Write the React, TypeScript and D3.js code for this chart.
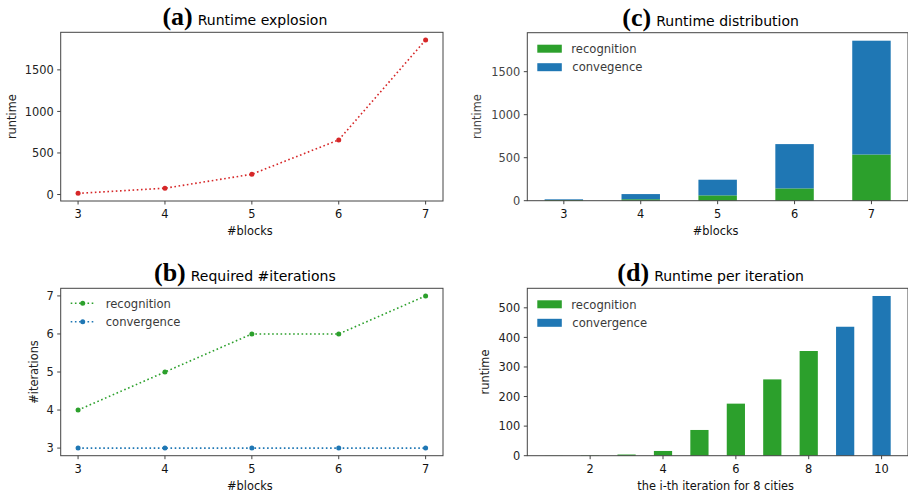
import * as d3 from 'd3';
import { useEffect, useRef } from 'react';

// data
const blocks = [3, 4, 5, 6, 7];
const runtimeTotal = [14, 76, 244, 657, 1860];
const recognitionIters = [4, 5, 6, 6, 7];
const convergenceIters = [3, 3, 3, 3, 3];
const recognitionTime = [8, 17, 62, 143, 537];
const convergenceTime = [8, 60, 182, 515, 1323];
const iterations = [1, 2, 3, 4, 5, 6, 7, 8, 9, 10];
const iterPhase = [
    'recognition', 'recognition', 'recognition', 'recognition',
    'recognition', 'recognition', 'recognition', 'recognition',
    'convergence', 'convergence',
];
const iterRuntime = [0.3, 1, 4, 16, 87, 176, 258, 354, 436, 540];

const blockTicks = [3, 4, 5, 6, 7];
const runtimeTicks = [0, 500, 1000, 1500];
const iterCountTicks = [3, 4, 5, 6, 7];
const iterRuntimeTicks = [0, 100, 200, 300, 400, 500];
const iterationTicks = [2, 4, 6, 8, 10];

const RED = '#d62728';
const GREEN = '#2ca02c';
const BLUE = '#1f77b4';
const SANS = '"DejaVu Sans", sans-serif';
const SERIF = '"Liberation Serif", "Times New Roman", serif';
const FS = 11.4;

type Box = { left: number; right: number; top: number; bottom: number };

const frame = (svg, box: Box, x, y, opts) => {
    const g = svg.append('g');
    const ink = opts.ink || '#222';

    // spines
    g.append('rect')
        .attr('x', box.left)
        .attr('y', box.top)
        .attr('width', box.right - box.left)
        .attr('height', box.bottom - box.top)
        .attr('fill', 'none')
        .attr('stroke', '#444')
        .attr('stroke-width', 1);

    // x ticks
    opts.xTicks.forEach((t) => {
        const px = x(t);
        g.append('line').attr('x1', px).attr('x2', px).attr('y1', box.bottom).attr('y2', box.bottom + 3.5).attr('stroke', '#444');
        g.append('text')
            .attr('x', px)
            .attr('y', box.bottom + 17)
            .attr('text-anchor', 'middle')
            .attr('font-family', SANS)
            .attr('font-size', FS)
            .attr('fill', '#111')
            .text(t);
    });

    // y ticks
    opts.yTicks.forEach((t) => {
        const py = y(t);
        g.append('line').attr('x1', box.left - 3.5).attr('x2', box.left).attr('y1', py).attr('y2', py).attr('stroke', '#444');
        g.append('text')
            .attr('x', box.left - 7)
            .attr('y', py + 4.2)
            .attr('text-anchor', 'end')
            .attr('font-family', SANS)
            .attr('font-size', FS)
            .attr('fill', ink)
            .text(t);
    });

    // axis labels
    g.append('text')
        .attr('x', (box.left + box.right) / 2 - 2)
        .attr('y', box.bottom + 34)
        .attr('text-anchor', 'middle')
        .attr('font-family', SANS)
        .attr('font-size', FS)
        .attr('fill', '#111')
        .text(opts.xLabel);

    g.append('text')
        .attr('transform', `translate(${box.left - opts.yLabelOffset}, ${(box.top + box.bottom) / 2}) rotate(-90)`)
        .attr('text-anchor', 'middle')
        .attr('font-family', SANS)
        .attr('font-size', FS)
        .attr('fill', ink)
        .text(opts.yLabel);

    // title: serif bold letter + sans text
    const title = g.append('text')
        .attr('x', (box.left + box.right) / 2 - 7)
        .attr('y', box.top - 7)
        .attr('text-anchor', 'middle')
        .attr('fill', '#000');
    title.append('tspan').attr('font-family', SERIF).attr('font-weight', 'bold').attr('font-size', 26).text(opts.letter);
    title.append('tspan').attr('font-family', SANS).attr('font-size', 14).attr('dx', 5).text(opts.title);

    return g;
};

const patchLegend = (svg, box: Box, labels: string[]) => {
    const colors = [GREEN, BLUE];
    labels.forEach((label, i) => {
        const cy = box.top + 16 + i * 18.5;
        svg.append('rect')
            .attr('x', box.left + 10)
            .attr('y', cy - 4)
            .attr('width', 24.5)
            .attr('height', 8)
            .attr('fill', colors[i]);
        svg.append('text')
            .attr('x', box.left + 44 + (i === 1 ? 1 : 0))
            .attr('y', cy + 4.2)
            .attr('font-family', SANS)
            .attr('font-size', 11.6)
            .attr('fill', '#3a3a3a')
            .text(label);
    });
};

const App = () => {
    const svgRef = useRef(null);

    useEffect(() => {
        document.body.style.margin = '0';
        const width = 908;
        const height = 497;

        const svg = d3.select(svgRef.current);
        svg.selectAll('*').remove();
        svg.attr('width', width).attr('height', height);
        svg.append('rect').attr('width', width).attr('height', height).attr('fill', '#fff');

        // (a) Runtime explosion
        const boxA = { left: 60.7, right: 443, top: 32.3, bottom: 201 };
        const xA = d3.scaleLinear().domain([2.8, 7.2]).range([boxA.left, boxA.right]);
        const yA = d3.scaleLinear().domain([-78, 1952]).range([boxA.bottom, boxA.top]);
        frame(svg, boxA, xA, yA, {
            xTicks: blockTicks, yTicks: runtimeTicks, xLabel: '#blocks', yLabel: 'runtime',
            yLabelOffset: 45, letter: '(a)', title: 'Runtime explosion',
        });
        const lineA = d3.line<number>().x((d, i) => xA(blocks[i])).y((d) => yA(d));
        svg.append('path')
            .attr('d', lineA(runtimeTotal))
            .attr('fill', 'none')
            .attr('stroke', RED)
            .attr('stroke-width', 1.6)
            .attr('stroke-dasharray', '1.6,2.6');
        svg.append('g')
            .selectAll('circle')
            .data(runtimeTotal)
            .enter()
            .append('circle')
            .attr('cx', (d, i) => xA(blocks[i]))
            .attr('cy', (d) => yA(d))
            .attr('r', 2.5)
            .attr('fill', RED);

        // (b) Required #iterations
        const boxB = { left: 60.7, right: 443, top: 288.3, bottom: 455.7 };
        const xB = d3.scaleLinear().domain([2.8, 7.2]).range([boxB.left, boxB.right]);
        const yB = d3.scaleLinear().domain([2.8, 7.2]).range([boxB.bottom, boxB.top]);
        frame(svg, boxB, xB, yB, {
            xTicks: blockTicks, yTicks: iterCountTicks, xLabel: '#blocks', yLabel: '#iterations',
            yLabelOffset: 23, letter: '(b)', title: 'Required #iterations',
        });
        const seriesB = [
            { label: 'recognition', values: recognitionIters, color: GREEN },
            { label: 'convergence', values: convergenceIters, color: BLUE },
        ];
        const lineB = d3.line<number>().x((d, i) => xB(blocks[i])).y((d) => yB(d));
        seriesB.forEach((s, si) => {
            svg.append('path')
                .attr('d', lineB(s.values))
                .attr('fill', 'none')
                .attr('stroke', s.color)
                .attr('stroke-width', 1.6)
                .attr('stroke-dasharray', '1.6,2.6');
            svg.append('g')
                .selectAll('circle')
                .data(s.values)
                .enter()
                .append('circle')
                .attr('cx', (d, i) => xB(blocks[i]))
                .attr('cy', (d) => yB(d))
                .attr('r', 2.5)
                .attr('fill', s.color);

            // legend row
            const ly = boxB.top + 15 + si * 18.5;
            svg.append('line')
                .attr('x1', boxB.left + 10).attr('x2', boxB.left + 33)
                .attr('y1', ly).attr('y2', ly)
                .attr('stroke', s.color)
                .attr('stroke-width', 1.6)
                .attr('stroke-dasharray', '1.6,2.6');
            svg.append('circle').attr('cx', boxB.left + 22).attr('cy', ly).attr('r', 2.5).attr('fill', s.color);
            svg.append('text')
                .attr('x', boxB.left + 45)
                .attr('y', ly + 4.2)
                .attr('font-family', SANS)
                .attr('font-size', 11.6)
                .attr('fill', '#3a3a3a')
                .text(s.label);
        });

        // (c) Runtime distribution
        const boxC = { left: 527.3, right: 908, top: 32.7, bottom: 200.7 };
        const xC = d3.scaleLinear().domain([2.525, 7.475]).range([boxC.left, boxC.right]);
        const yC = d3.scaleLinear().domain([0, 1953]).range([boxC.bottom, boxC.top]);
        const stackC = d3.stack().keys(['recognition', 'convergence'])(
            blocks.map((b, i) => ({ block: b, recognition: recognitionTime[i], convergence: convergenceTime[i] }))
        );
        const colorC = d3.scaleOrdinal<string>().domain(['recognition', 'convergence']).range([GREEN, BLUE]);
        svg.append('g')
            .selectAll('g')
            .data(stackC)
            .enter()
            .append('g')
            .attr('fill', (d) => colorC(d.key))
            .selectAll('rect')
            .data((d) => d)
            .enter()
            .append('rect')
            .attr('x', (d) => xC(d.data.block - 0.25))
            .attr('y', (d) => yC(d[1]))
            .attr('width', (d) => xC(d.data.block + 0.25) - xC(d.data.block - 0.25))
            .attr('height', (d) => yC(d[0]) - yC(d[1]));
        frame(svg, boxC, xC, yC, {
            xTicks: blockTicks, yTicks: runtimeTicks, xLabel: '#blocks', yLabel: 'runtime',
            yLabelOffset: 46, letter: '(c)', title: 'Runtime distribution', ink: '#444',
        });
        patchLegend(svg, boxC, ['recognition', 'convegence']);

        // (d) Runtime per iteration
        const boxD = { left: 527.3, right: 908, top: 288.3, bottom: 455.7 };
        const xD = d3.scaleLinear().domain([0.275, 10.725]).range([boxD.left, boxD.right]);
        const yD = d3.scaleLinear().domain([0, 566]).range([boxD.bottom, boxD.top]);
        svg.append('g')
            .selectAll('rect')
            .data(iterRuntime)
            .enter()
            .append('rect')
            .attr('x', (d, i) => xD(iterations[i] - 0.25))
            .attr('y', (d) => yD(d))
            .attr('width', (d, i) => xD(iterations[i] + 0.25) - xD(iterations[i] - 0.25))
            .attr('height', (d) => yD(0) - yD(d))
            .attr('fill', (d, i) => (iterPhase[i] === 'recognition' ? GREEN : BLUE));
        frame(svg, boxD, xD, yD, {
            xTicks: iterationTicks, yTicks: iterRuntimeTicks, xLabel: 'the i-th iteration for 8 cities', yLabel: 'runtime',
            yLabelOffset: 38, letter: '(d)', title: 'Runtime per iteration',
        });
        patchLegend(svg, boxD, ['recognition', 'convergence']);
    }, []);

    return <svg ref={svgRef} style={{ display: 'block' }} />;
};

export default App;
